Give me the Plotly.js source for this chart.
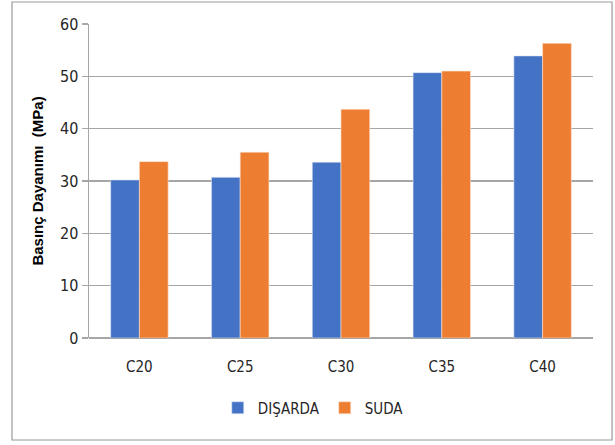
<!DOCTYPE html>
<html>
<head>
<meta charset="utf-8">
<script src="https://cdn.plot.ly/plotly-3.0.1.min.js"></script>
<style>html,body{margin:0;padding:0;background:#fff;}#chart{width:615px;height:445px;}</style>
</head>
<body>
<div id="chart"></div>
<script>
const categories = ["C20", "C25", "C30", "C35", "C40"];
const disardaValues = [30.2, 30.7, 33.6, 50.7, 53.9];
const sudaValues = [33.7, 35.5, 43.7, 51.0, 56.3];
const seriesNames = ["DIŞARDA", "SUDA"];
const yTicks = [0, 10, 20, 30, 40, 50, 60];

const fontFam = "'Liberation Sans Narrow', 'DejaVu Sans Condensed', 'Liberation Sans', sans-serif";

const traces = [
  {type: "bar", name: seriesNames[0], x: categories, y: disardaValues,
   marker: {color: "#4472C4", line: {color: "#dfe6f5", width: 0.6}}},
  {type: "bar", name: seriesNames[1], x: categories, y: sudaValues,
   marker: {color: "#ED7D31", line: {color: "#fbe0cf", width: 0.6}}}
];

const layout = {
  width: 615, height: 445,
  margin: {l: 89, r: 22, t: 24, b: 107},
  paper_bgcolor: "#ffffff", plot_bgcolor: "#ffffff",
  barmode: "group", bargap: 0.43, bargroupgap: 0,
  font: {family: fontFam, size: 14, color: "#262626"},
  showlegend: true,
  legend: {orientation: "h", x: 0.445, xanchor: "center", y: -0.223, yanchor: "middle",
           font: {family: fontFam, size: 15, color: "#262626"}, itemwidth: 30, traceorder: "normal"},
  xaxis: {type: "category", showgrid: false, showline: false, zeroline: false,
          ticks: "", tickfont: {family: fontFam, size: 15, color: "#262626"}, ticklabelstandoff: 18},
  yaxis: {range: [0, 60], tickvals: yTicks, showgrid: true, gridcolor: "#A6A6A6", gridwidth: 1.5,
          zeroline: true, zerolinecolor: "#A6A6A6", zerolinewidth: 1.5,
          showline: true, linecolor: "#A6A6A6", linewidth: 1.5,
          ticks: "outside", ticklen: 6, tickcolor: "#A6A6A6", tickwidth: 1.5,
          tickfont: {family: fontFam, size: 16, color: "#262626"},
          title: {text: "Basınç Dayanımı  (MPa)", standoff: 12,
                  font: {family: "'Liberation Sans', 'DejaVu Sans', sans-serif", size: 15, color: "#000", weight: "bold"}}},
  shapes: [
    {type: "rect", xref: "paper", yref: "paper", x0: -0.1528, x1: 1.0377, y0: -0.3248, y1: 1.0701,
     line: {color: "#999999", width: 1.2}, fillcolor: "rgba(0,0,0,0)", layer: "below"}
  ]
};

Plotly.newPlot("chart", traces, layout, {displayModeBar: false, staticPlot: true});
</script>
</body>
</html>
